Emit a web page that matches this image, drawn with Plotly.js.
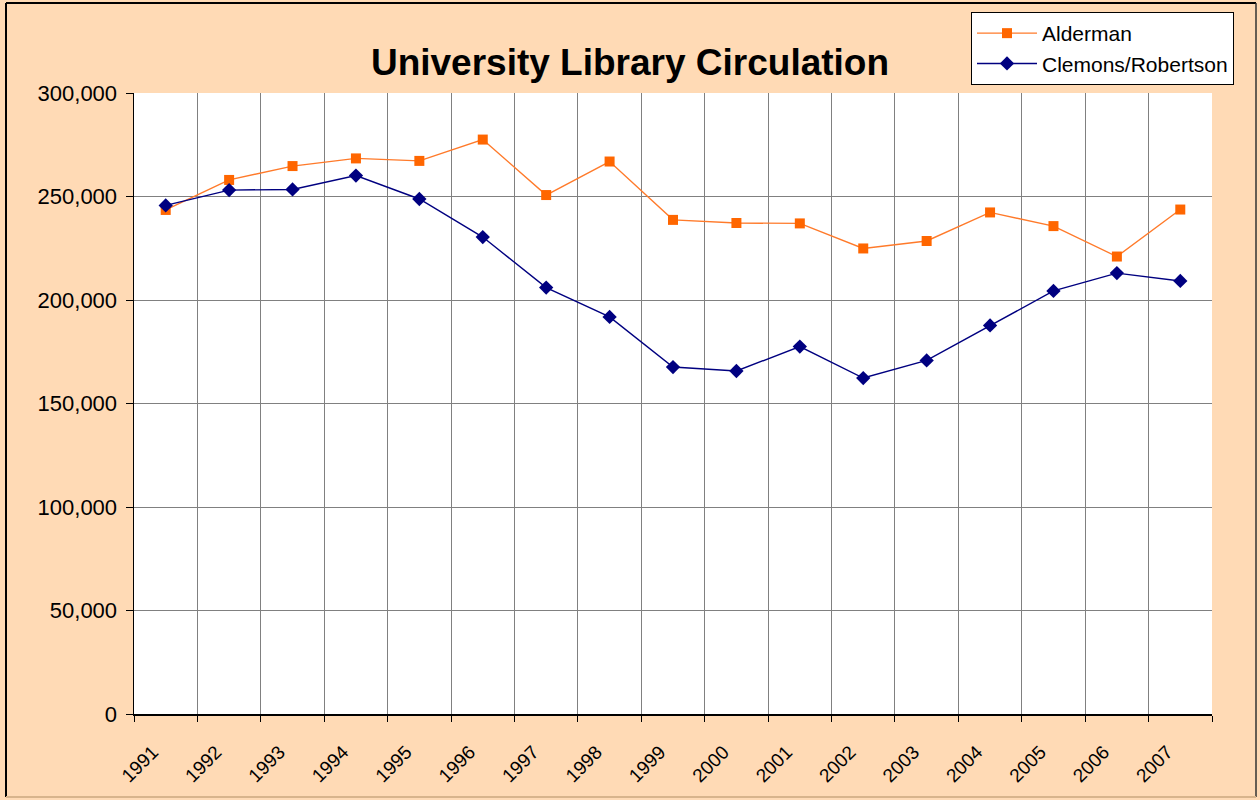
<!DOCTYPE html>
<html>
<head>
<meta charset="utf-8">
<script src="https://cdn.plot.ly/plotly-3.0.1.min.js"></script>
<style>html,body{margin:0;padding:0;background:#FFDAB5;}</style>
</head>
<body>
<div id="chart" style="width:1260px;height:800px;"></div>
<script>
const years = ["1991","1992","1993","1994","1995","1996","1997","1998","1999","2000","2001","2002","2003","2004","2005","2006","2007"];
const alderman = [243500,258000,264700,268400,267200,277500,250700,266900,238700,237200,237000,224900,228500,242300,235700,221000,243700];
const clemons = [245700,253100,253400,260100,248800,230400,206000,191800,167600,165700,177500,162300,170800,187700,204400,213000,209200];
const yTicks = [0,50000,100000,150000,200000,250000,300000];
const yTickText = ["0","50,000","100,000","150,000","200,000","250,000","300,000"];

const W = 1260, H = 800;
const m = {l:134, r:48, t:93, b:86, autoexpand: false};
const pw = W - m.l - m.r, ph = H - m.t - m.b;
const px = x => (x - m.l) / pw;
const py = y => (H - m.b - y) / ph;

const font = "Liberation Sans, Arial, sans-serif";

const traces = [
  {
    x: years, y: alderman, name: "Alderman", type: "scatter", mode: "lines+markers",
    line: {color: "#FF7A2A", width: 1.4},
    marker: {symbol: "square", size: 10, color: "#FF6600", line: {width: 0}}
  },
  {
    x: years, y: clemons, name: "Clemons/Robertson", type: "scatter", mode: "lines+markers",
    line: {color: "#000080", width: 1.4},
    marker: {symbol: "diamond", size: 11, color: "#000080", line: {width: 0}}
  }
];

const layout = {
  width: W, height: H,
  margin: m,
  paper_bgcolor: "#FFDAB5",
  plot_bgcolor: "#FFFFFF",
  font: {family: font, size: 20, color: "#000"},
  title: {text: "<b>University Library Circulation</b>", x: 0.5, xanchor: "center", y: 1 - 62/H, yanchor: "middle",
          font: {family: font, size: 37, color: "#000"}},
  showlegend: true,
  legend: {x: px(971), y: py(12), xanchor: "left", yanchor: "top", bgcolor: "#FFFFFF",
           bordercolor: "#000000", borderwidth: 1, font: {family: font, size: 21, color: "#000"},
           tracegroupgap: 0, itemwidth: 60},
  xaxis: {
    type: "category", tickson: "boundaries", range: [-0.5, 16.5], autorange: false, automargin: false,
    ticks: "outside", ticklen: 6, tickcolor: "#000",
    showgrid: true, gridcolor: "#808080", gridwidth: 1,
    showline: true, linecolor: "#000", linewidth: 1.5,
    tickangle: -45, tickfont: {family: font, size: 19}, ticklabelshift: -13, ticklabelstandoff: 18,
    zeroline: false, fixedrange: true
  },
  yaxis: {
    range: [0, 300000], autorange: false, automargin: false, tickvals: yTicks, ticktext: yTickText,
    ticks: "outside", ticklen: 7, tickcolor: "#000",
    showgrid: true, gridcolor: "#808080", gridwidth: 1,
    showline: true, linecolor: "#000", linewidth: 1.5,
    tickfont: {family: font, size: 22}, ticklabelstandoff: 4,
    zeroline: false, fixedrange: true
  },
  shapes: [
    {type: "line", xref: "paper", yref: "paper", x0: px(6), x1: px(6), y0: py(3), y1: py(797), line: {color: "#000", width: 2}},
    {type: "line", xref: "paper", yref: "paper", x0: px(6), x1: px(1256), y0: py(3), y1: py(3), line: {color: "#000", width: 2}},
    {type: "line", xref: "paper", yref: "paper", x0: px(1256), x1: px(1256), y0: py(3), y1: py(797), line: {color: "#333", width: 1.5}},
    {type: "line", xref: "paper", yref: "paper", x0: px(6), x1: px(1256), y0: py(797), y1: py(797), line: {color: "#D8B48C", width: 2}}
  ]
};

Plotly.newPlot("chart", traces, layout, {displayModeBar: false, staticPlot: true});
</script>
</body>
</html>
